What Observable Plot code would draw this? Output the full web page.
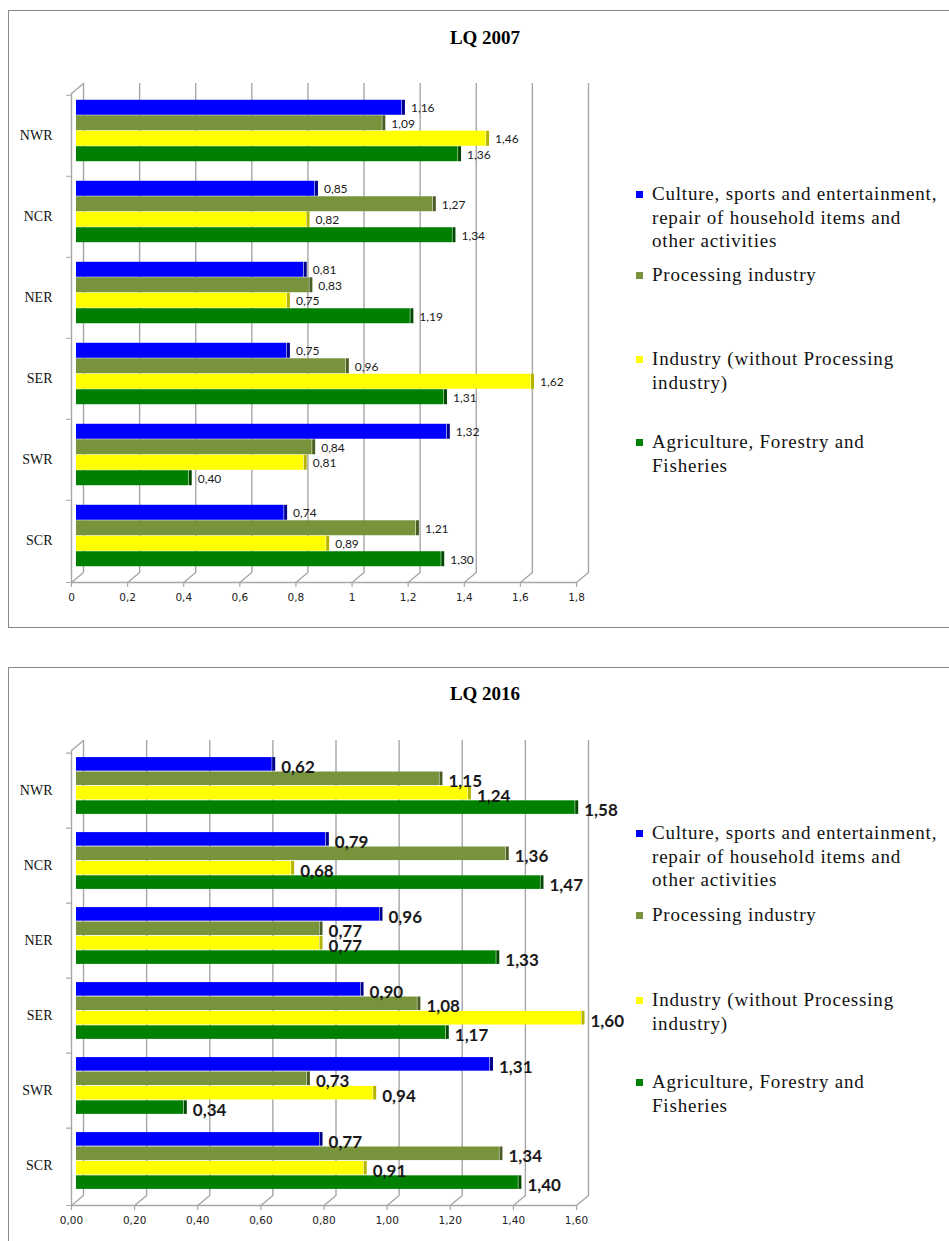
<!DOCTYPE html>
<html><head><meta charset="utf-8">
<script src="https://cdn.jsdelivr.net/npm/d3@7"></script>
<script src="https://cdn.jsdelivr.net/npm/@observablehq/plot@0.6"></script>
<style>
html,body{margin:0;padding:0;background:#fff;overflow:hidden;width:949px;height:1241px;}
#page{position:relative;width:949px;height:1241px;overflow:hidden;}
.panel{position:absolute;left:8px;width:1200px;border:1.5px solid #8a8a8a;box-sizing:border-box;}
.title{position:absolute;font-family:"Liberation Serif",serif;font-weight:bold;font-size:19px;color:#000;transform:translate(-50%,-50%);white-space:nowrap;}
.legend-item{position:absolute;font-family:"Liberation Serif",serif;font-size:19px;line-height:23.5px;letter-spacing:0.8px;color:#111;white-space:nowrap;}
.swatch{position:absolute;width:7px;height:7px;}
.chart{position:absolute;left:0;}
</style></head>
<body><div id="page"></div>
<script>
// ---- data ----
const regions = ["NWR", "NCR", "NER", "SER", "SWR", "SCR"];
const seriesNames = [
  "Culture, sports and entertainment, repair of household items and other activities",
  "Processing industry",
  "Industry (without Processing industry)",
  "Agriculture, Forestry and Fisheries"
];
const legendLines = [
  ["Culture, sports and entertainment,", "repair of household items and", "other activities"],
  ["Processing industry"],
  ["Industry (without Processing", "industry)"],
  ["Agriculture, Forestry and", "Fisheries"]
];
const colors = ["#0000ff", "#77933c", "#ffff00", "#008000"];
const sideColors = ["#00008c", "#4a5e24", "#b5b500", "#004a00"];

const culture2007 = [1.16, 0.85, 0.81, 0.75, 1.32, 0.74];
const processing2007 = [1.09, 1.27, 0.83, 0.96, 0.84, 1.21];
const industry2007 = [1.46, 0.82, 0.75, 1.62, 0.81, 0.89];
const agriculture2007 = [1.36, 1.34, 1.19, 1.31, 0.40, 1.30];

const culture2016 = [0.62, 0.79, 0.96, 0.90, 1.31, 0.77];
const processing2016 = [1.15, 1.36, 0.77, 1.08, 0.73, 1.34];
const industry2016 = [1.24, 0.68, 0.77, 1.60, 0.94, 0.91];
const agriculture2016 = [1.58, 1.47, 1.33, 1.17, 0.34, 1.40];

const ticks2007 = [0, 0.2, 0.4, 0.6, 0.8, 1, 1.2, 1.4, 1.6, 1.8];
const ticks2016 = [0, 0.2, 0.4, 0.6, 0.8, 1.0, 1.2, 1.4, 1.6];
const tickFmt2007 = d => String(d).replace(".", ",");
const tickFmt2016 = d => d.toFixed(2).replace(".", ",");
const valueFmt = v => v.toFixed(2).replace(".", ",");

const page = document.getElementById("page");

function el(tag, cls, style, html) {
  const e = document.createElement(tag);
  if (cls) e.className = cls;
  Object.assign(e.style, style || {});
  if (html != null) e.innerHTML = html;
  page.appendChild(e);
  return e;
}

function drawChart(cfg) {
  const values = cfg.values;
  const data = [];
  seriesNames.forEach((s, i) => regions.forEach((r, j) => data.push({region: r, series: s, si: i, value: values[i][j]})));
  const innerH = cfg.height - cfg.marginTop - cfg.marginBottom;
  const bw = innerH / regions.length;
  const pad = bw * 0.12;
  const bh = (bw - 2 * pad) / seriesNames.length;
  const depthX = 12, depthY = -10, shiftX = 5, shiftY = -5;
  const wall = "#a6a6a6";
  const diagLen = Math.hypot(depthX, depthY);
  const diagRot = Math.atan2(depthX, -depthY) * 180 / Math.PI;

  const marks = [
    // back wall grid lines
    Plot.ruleX(cfg.ticks, {x: d => d, dx: depthX, dy: depthY, stroke: wall, strokeWidth: 1.4}),
    // floor diagonals
    Plot.vector(cfg.ticks, {x: d => d, frameAnchor: "bottom", anchor: "start", length: diagLen, rotate: diagRot, shape: "spike", r: 0, stroke: wall, fill: "none", strokeWidth: 1.4}),
    // top-left wall diagonal
    Plot.vector([0], {x: d => d, frameAnchor: "top", anchor: "start", length: diagLen, rotate: diagRot, shape: "spike", r: 0, stroke: wall, fill: "none", strokeWidth: 1.4}),
    // front left axis line
    Plot.ruleX([0], {x: d => d, stroke: wall, strokeWidth: 1.4}),
    // front bottom floor line
    Plot.frame({anchor: "bottom", stroke: wall, strokeWidth: 1.4}),
    // x ticks (down)
    Plot.vector(cfg.ticks, {x: d => d, frameAnchor: "bottom", anchor: "start", length: 4, rotate: 180, shape: "spike", r: 0, stroke: wall, fill: "none", strokeWidth: 1.2}),
    // y boundary ticks (left)
    Plot.vector(regions, {y: d => d, frameAnchor: "left", anchor: "start", dy: -bw / 2, length: 5, rotate: -90, shape: "spike", r: 0, stroke: wall, fill: "none", strokeWidth: 1.2}),
    Plot.vector([0], {frameAnchor: "bottom-left", anchor: "start", length: 5, rotate: -90, shape: "spike", r: 0, stroke: wall, fill: "none", strokeWidth: 1.2}),
    Plot.axisX({ticks: cfg.ticks, tickFormat: cfg.tickFmt, tickSize: 0, tickPadding: 11, fontSize: 10.5, fontFamily: "DejaVu Sans", fill: "#222", label: null}),
    Plot.axisY({tickSize: 0, tickPadding: 19, fontSize: 14, fontFamily: "Liberation Serif", fill: "#111", label: null})
  ];

  seriesNames.forEach((s, i) => {
    const d = data.filter(v => v.si === i);
    const insetTop = pad + i * bh;
    const insetBottom = pad + (seriesNames.length - 1 - i) * bh;
    marks.push(Plot.barX(d, {x: "value", y: "region", fill: colors[i], insetTop, insetBottom, dx: shiftX, dy: shiftY}));
    marks.push(Plot.tickX(d, {x: "value", y: "region", stroke: sideColors[i], strokeWidth: 3, insetTop, insetBottom, dx: shiftX + 1.5, dy: shiftY}));
  });
  seriesNames.forEach((s, i) => {
    const d = data.filter(v => v.si === i);
    marks.push(Plot.text(d, {
      x: "value", y: "region", text: v => valueFmt(v.value), textAnchor: "start",
      dx: shiftX + 3 + 6,
      dy: pad + (i + 0.5) * bh - bw / 2 + shiftY + cfg.labelDy,
      fontSize: cfg.labelSize, fontFamily: "Lato", fontWeight: cfg.labelWeight, fill: "#1a1a1a"
    }));
  });

  const svg = Plot.plot({
    width: 700,
    height: cfg.height,
    marginLeft: 71,
    marginRight: 124,
    marginTop: cfg.marginTop,
    marginBottom: cfg.marginBottom,
    x: {domain: [0, cfg.ticks[cfg.ticks.length - 1]]},
    y: {type: "band", domain: regions, paddingInner: 0, paddingOuter: 0},
    style: {background: "transparent", overflow: "visible"},
    marks
  });
  svg.classList.add("chart");
  svg.style.top = cfg.svgTop + "px";
  svg.style.position = "absolute";
  page.appendChild(svg);

  el("div", "title", {left: "485px", top: cfg.titleY + "px"}, cfg.title);

  legendLines.forEach((lines, i) => {
    const y = cfg.legendY[i];
    el("div", "swatch", {left: "636px", top: (y - 3.5) + "px", background: colors[i]});
    el("div", "legend-item", {left: "652px", top: (y - 11.75) + "px"}, lines.join("<br>"));
  });
}

el("div", "panel", {top: "10px", height: "618px"});
el("div", "panel", {top: "667px", height: "800px"});

drawChart({
  values: [culture2007, processing2007, industry2007, agriculture2007],
  ticks: ticks2007, tickFmt: tickFmt2007,
  svgTop: 0, height: 620, marginTop: 93, marginBottom: 38,
  labelSize: 12, labelWeight: 400, labelDy: 0.5,
  title: "LQ 2007", titleY: 38,
  legendY: [194, 275, 359, 442]
});

drawChart({
  values: [culture2016, processing2016, industry2016, agriculture2016],
  ticks: ticks2016, tickFmt: tickFmt2016,
  svgTop: 650, height: 591, marginTop: 100, marginBottom: 36,
  labelSize: 17, labelWeight: 700, labelDy: 3,
  title: "LQ 2016", titleY: 694,
  legendY: [833, 915, 1000, 1082]
});
</script></body></html>
